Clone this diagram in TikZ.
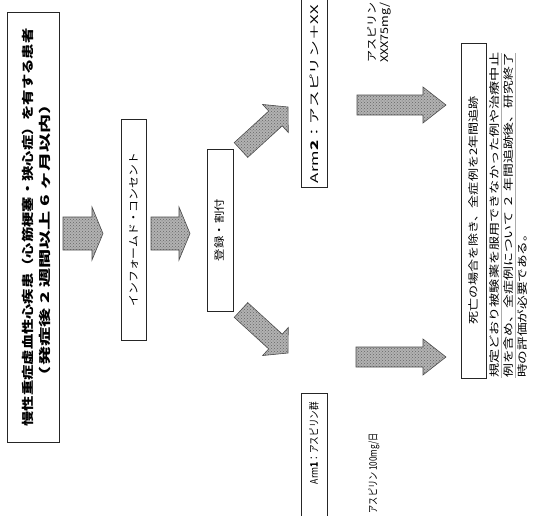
\documentclass[tikz,border=0pt]{standalone}
\usepackage{fontspec}
\setmainfont{Noto Sans CJK JP}
\usetikzlibrary{calc,patterns}

% stretch a text horizontally to a given width, keeping its height
\newcommand\fitw[2]{\resizebox{#1}{\height}{#2}}

% block arrow: tail, tip, body half-width, head half-width, head length
\newcommand\barrow[5]{%
  \coordinate (bh) at ($(#2)!#5!(#1)$);
  \path[blockarrow]
    ($(#1)!#3!90:(#2)$) -- ($(bh)!#3!90:(#2)$) -- ($(bh)!#4!90:(#2)$) -- (#2)
    -- ($(bh)!#4!-90:(#2)$) -- ($(bh)!#3!-90:(#2)$) -- ($(#1)!#3!-90:(#2)$) -- cycle;}

\tikzset{
  frame/.style={draw=black!85, line width=0.8pt, rotate=90, inner sep=0pt},
  label/.style={rotate=90, inner sep=0pt},
  blockarrow/.style={draw=black!70, line width=0.6pt, preaction={fill=gray!60},
    pattern=crosshatch dots, pattern color=black!60},
  underl/.style={draw=gray!65, line width=0.7pt}
}

\begin{document}
\begin{tikzpicture}[x=1pt, y=-1pt]
\fill[white] (0,0) rectangle (539,515);
\useasboundingbox (0,0) rectangle (539,515);

% ---- boxes of the flow ----
\node[frame, minimum width=430pt, minimum height=52pt] (onset) at (33.5,227) {};
\node[label, font=\fontsize{12}{14}\selectfont\bfseries] (onset1) at (28,227.5)
  {\fitw{398pt}{慢性重症虚血性心疾患（心筋梗塞・狭心症）を有する患者}};
\node[label, font=\fontsize{12}{14}\selectfont\bfseries] (onset2) at (45,240)
  {\fitw{290pt}{（発症後 2 週間以上 6 ヶ月以内）}};

\node[frame, minimum width=221pt, minimum height=25pt,
      font=\fontsize{10.5}{12}\selectfont] (consent) at (133.5,229.5)
  {\fitw{153pt}{インフォームド・コンセント}};

\node[frame, minimum width=162pt, minimum height=26pt,
      font=\fontsize{10.5}{12}\selectfont] (random) at (220,230)
  {\fitw{62pt}{登録・割付}};

\node[frame, minimum width=220pt, minimum height=26pt, text width=212pt, align=left,
      font=\fontsize{10.5}{12}\selectfont] (arm2) at (314,77)
  {\fitw{178pt}{Arm\textbf{2}：アスピリン＋XX}};

\node[frame, minimum width=142pt, minimum height=26pt, text width=124pt, align=right,
      font=\fontsize{10.5}{12}\selectfont] (arm1) at (314,464)
  {\fitw{82pt}{Arm\textbf{1}：アスピリン群}};

\node[frame, minimum width=335pt, minimum height=24.5pt,
      font=\fontsize{10.5}{12}\selectfont] (follow) at (473.75,210.5)
  {\fitw{228pt}{死亡の場合を除き、全症例を2年間追跡}};

% ---- dose notes ----
\node[label, anchor=north west, align=left,
      font=\fontsize{10.5}{12.5}\selectfont] (dose2) at (367,63)
  {\fitw{60pt}{アスピリン}\\ \fitw{60pt}{XXX75mg/}};

\node[label, anchor=east, font=\fontsize{10.5}{12}\selectfont] (dose1) at (374,433)
  {\fitw{80pt}{アスピリン 100mg/日}};

% ---- note under the follow-up box ----
\node[label, anchor=north west, align=left,
      font=\fontsize{10.5}{14.2}\selectfont] (note) at (489,378)
  {\fitw{325pt}{規定どおり被験薬を服用できなかった例や治療中止}\\
   \fitw{325pt}{例を含め、全症例について ２ 年間追跡後、研究終了}\\
   \fitw{150pt}{時の評価が必要である。}};
\draw[underl] (501.5,53) -- (501.5,378);
\draw[underl] (515.5,53) -- (515.5,378);

% ---- block arrows ----
\coordinate (a1t) at (63,233.5);  \coordinate (a1h) at (103,233.5);
\coordinate (a2t) at (151,233.5); \coordinate (a2h) at (190,233.5);
\coordinate (a3t) at (241,150);   \coordinate (a3h) at (288,107);
\coordinate (a4t) at (241,310);   \coordinate (a4h) at (288,353);
\coordinate (a5t) at (357,105);   \coordinate (a5h) at (446,105);
\coordinate (a6t) at (356,357);   \coordinate (a6h) at (446,357);

\barrow{a1t}{a1h}{16.5pt}{26.5pt}{11pt}
\barrow{a2t}{a2h}{16.5pt}{26.5pt}{11pt}
\barrow{a3t}{a3h}{10pt}{19pt}{17pt}
\barrow{a4t}{a4h}{10pt}{19pt}{17pt}
\barrow{a5t}{a5h}{10pt}{18pt}{23pt}
\barrow{a6t}{a6h}{10pt}{18pt}{23pt}
\end{tikzpicture}
\end{document}
